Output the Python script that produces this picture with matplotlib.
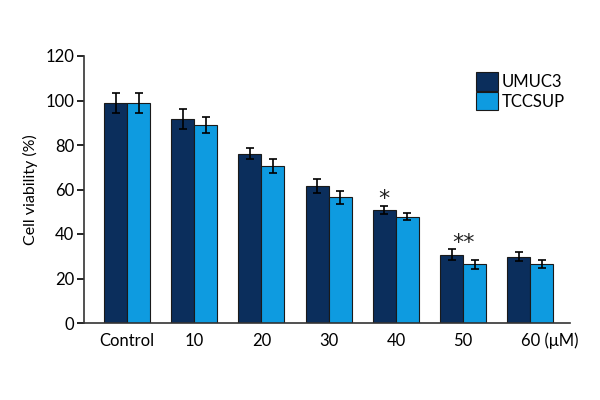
import matplotlib
matplotlib.use("Agg")
import matplotlib.pyplot as plt
import matplotlib.transforms as mtransforms
import numpy as np

plt.rcParams['font.family'] = ['Lato', 'DejaVu Sans']

groups = ['Control', '10', '20', '30', '40', '50', '60 (\u03bcM)']
umuc3 = [98.7, 91.7, 76.1, 61.5, 50.8, 30.6, 29.7]
umuc3_err = [4.5, 4.5, 2.5, 3.0, 2.0, 2.5, 2.0]
tccsup = [98.7, 89.0, 70.5, 56.5, 47.8, 26.4, 26.5]
tccsup_err = [4.5, 3.6, 3.0, 3.0, 1.7, 2.0, 2.0]
marks = {4: '*', 5: '**'}

dark = '#0b2e5c'
light = '#0e9be0'

fig = plt.figure(figsize=(6, 4), dpi=100)
ax = fig.add_axes([0.14, 0.1925, 0.81, 0.6675])

x = np.arange(len(groups))
w = 0.342
ekw = dict(elinewidth=1.2, capthick=1.2)
ax.bar(x - w / 2, umuc3, w, yerr=umuc3_err, capsize=3, color=dark,
       edgecolor='#1a1a1a', linewidth=0.8, error_kw=ekw, label='UMUC3')
ax.bar(x + w / 2, tccsup, w, yerr=tccsup_err, capsize=3, color=light,
       edgecolor='#1a1a1a', linewidth=0.8, error_kw=ekw, label='TCCSUP')

# significance stars, drawn with DejaVu (bigger asterisk than Lato)
for i, s in marks.items():
    if len(s) == 1:
        xs = x[i] - w / 2
    else:
        xs = x[i]
    top = umuc3[i] + umuc3_err[i]
    ax.text(xs, top + 0.3, s, ha='center', va='baseline', fontsize=16,
            color='#222222', family='DejaVu Sans')

ax.set_xlim(-0.64, 6.59)
ax.set_ylim(0, 120)
ax.set_yticks(np.arange(0, 121, 20))
ax.set_xticks(x)
ax.set_xticklabels(groups)
ax.tick_params(axis='x', length=0, pad=7, labelsize=12)
ax.tick_params(axis='y', direction='out', length=5, width=1.2, labelsize=12, pad=2)
last = ax.get_xticklabels()[-1]
last.set_horizontalalignment('left')
last.set_transform(last.get_transform() + mtransforms.ScaledTranslation(-9 / 100, 0, fig.dpi_scale_trans))

for s in ['top', 'right']:
    ax.spines[s].set_visible(False)
for s in ['left', 'bottom']:
    ax.spines[s].set_linewidth(1.2)
    ax.spines[s].set_color('#333333')

ax.set_ylabel('Cell viability (%)', fontsize=11.5, labelpad=5)

leg = ax.legend(loc='upper left', bbox_to_anchor=(0.79, 0.97), frameon=False,
                fontsize=12, handlelength=1.3, handleheight=1.3,
                handletextpad=0.2, labelspacing=0.1, borderpad=0)

fig.savefig('out.png', dpi=100)
